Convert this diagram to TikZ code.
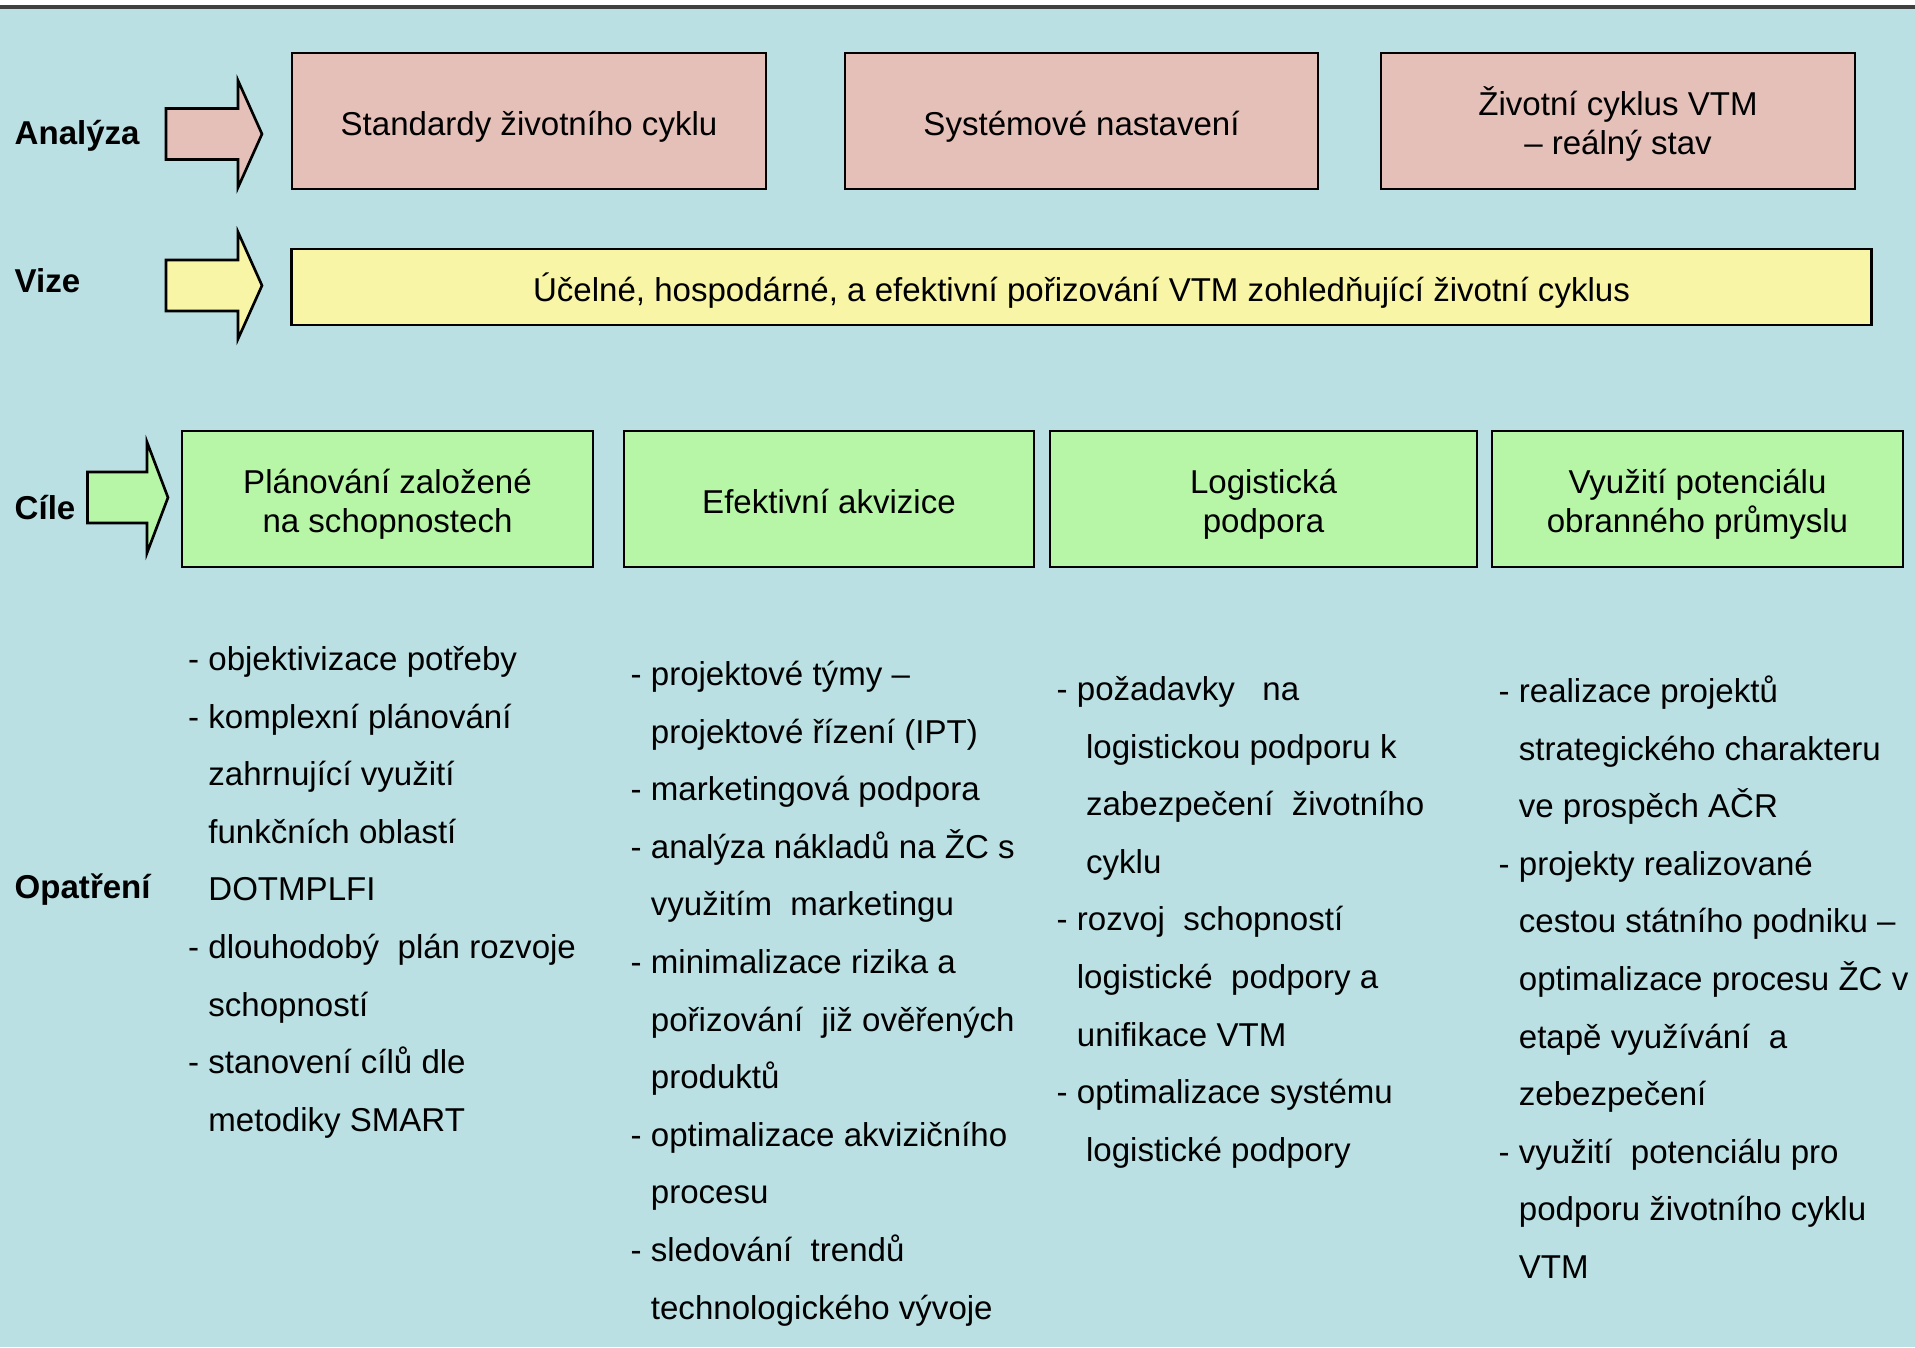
\documentclass[tikz,border=0pt]{standalone}
\usepackage{fontspec}
\setmainfont{Liberation Sans}
\usetikzlibrary{positioning}

\definecolor{bgblue}{RGB}{186,224,227}
\definecolor{anpink}{RGB}{228,192,184}
\definecolor{vizyellow}{RGB}{248,245,166}
\definecolor{cilgreen}{RGB}{183,245,167}

\newcommand{\ind}{\hphantom{- }}
\newcommand{\bt}{\rule{0pt}{11.4pt}}
\newcommand{\bb}{\rule[-3.2pt]{0pt}{3.2pt}}

\begin{document}
\begin{tikzpicture}[x=0.01cm, y=-0.01cm,
        every node/.style={font=\fontsize{9.4}{11.1}\selectfont},
        rowlabel/.style={anchor=base west, inner sep=0pt, font=\fontsize{9.4}{11.1}\selectfont\bfseries},
        box/.style={draw=black, line width=0.75pt, align=center, minimum height=1.36cm, inner sep=0pt},
        item/.style={anchor=base west, inner sep=0pt},
        blockarrow/.style={draw=black, line width=0.75pt}]
    \useasboundingbox (0,0) rectangle (1915,1347);
    \fill[white] (0,0) rectangle (1915,1347);
    \fill[bgblue] (0,7) rectangle (1915,1347);
    \draw[line width=1pt, black!75] (0,7) -- (1915,7);

    % row labels
    \node[rowlabel] (analyza) at (14,144.5) {Analýza};
    \node[rowlabel] (vize) at (14,292) {Vize};
    \node[rowlabel] (cile) at (14,519.5) {Cíle};
    \node[rowlabel] (opatreni) at (14,898.5) {Opatření};

    % block arrows
    \foreach \xa/\xb/\xc/\ym/\hh/\col in {166/238/262/134/53.5/anpink,
                                          166/238/262/285.5/53.5/vizyellow,
                                          87.5/147/168/497.5/55.5/cilgreen}{%
        \filldraw[blockarrow, fill=\col] (\xa,\ym-25.5) -- (\xb,\ym-25.5) -- (\xb,\ym-\hh)
            -- (\xc,\ym) -- (\xb,\ym+\hh) -- (\xb,\ym+25.5) -- (\xa,\ym+25.5) -- cycle;
    }

    % analyza
    \node[box, fill=anpink, minimum width=4.74cm] (standardy) at (529,121) {\bt Standardy životního cyklu\bb};
    \node[box, fill=anpink, minimum width=4.73cm] (system) at (1081.5,121) {\bt Systémové nastavení\bb};
    \node[box, fill=anpink, minimum width=4.74cm] (realny) at (1618,121) {\bt Životní cyklus VTM\\– reálný stav\bb};

    % vize
    \node[box, fill=vizyellow, minimum width=15.79cm, minimum height=0.76cm] (ucel) at (1081.5,287)
        {\bt Účelné, hospodárné, a efektivní pořizování VTM zohledňující životní cyklus\bb};

    % cile
    \node[box, fill=cilgreen, minimum width=4.11cm] (planovani) at (387.5,499) {\bt Plánování založené\\na schopnostech\bb};
    \node[box, fill=cilgreen, minimum width=4.10cm] (akvizice) at (829,499) {\bt Efektivní akvizice\bb};
    \node[box, fill=cilgreen, minimum width=4.27cm] (logistika) at (1263.5,499) {\bt Logistická\\podpora\bb};
    \node[box, fill=cilgreen, minimum width=4.11cm] (prumysl) at (1697.5,499) {\bt Využití potenciálu\\obranného průmyslu\bb};

    % opatreni
    \foreach \t [count=\i] in {{- objektivizace potřeby},{- komplexní plánování},{\ind zahrnující využití},
            {\ind funkčních oblastí},{\ind DOTMPLFI},{- dlouhodobý\ \ plán rozvoje},{\ind schopností},
            {- stanovení cílů dle},{\ind metodiky SMART}}{%
        \node[item] (pl\i) at (187.5,670.5+57.6*\i-57.6) {\t};
    }
    \foreach \t [count=\i] in {{- projektové týmy –},{\ind projektové řízení (IPT)},{- marketingová podpora},
            {- analýza nákladů na ŽC s},{\ind využitím\ \ marketingu},{- minimalizace rizika a},
            {\ind pořizování\ \ již ověřených},{\ind produktů},{- optimalizace akvizičního},{\ind procesu},
            {- sledování\ \ trendů},{\ind technologického vývoje}}{%
        \node[item] (ak\i) at (630,685.5+57.6*\i-57.6) {\t};
    }
    \foreach \t [count=\i] in {{- požadavky\ \ \ na},{\ind\ logistickou podporu k},{\ind\ zabezpečení\ \ životního},
            {\ind\ cyklu},{- rozvoj\ \ schopností},{\ind logistické\ \ podpory a},{\ind unifikace VTM},
            {- optimalizace systému},{\ind\ logistické podpory}}{%
        \node[item] (lo\i) at (1056,700.5+57.6*\i-57.6) {\t};
    }
    \foreach \t [count=\i] in {{- realizace projektů},{\ind strategického charakteru},{\ind ve prospěch AČR},
            {- projekty realizované},{\ind cestou státního podniku –},{\ind optimalizace procesu ŽC v},
            {\ind etapě využívání\ \ a},{\ind zebezpečení},{- využití\ \ potenciálu pro},
            {\ind podporu životního cyklu},{\ind VTM}}{%
        \node[item] (vy\i) at (1498,702.5+57.6*\i-57.6) {\t};
    }
\end{tikzpicture}
\end{document}
